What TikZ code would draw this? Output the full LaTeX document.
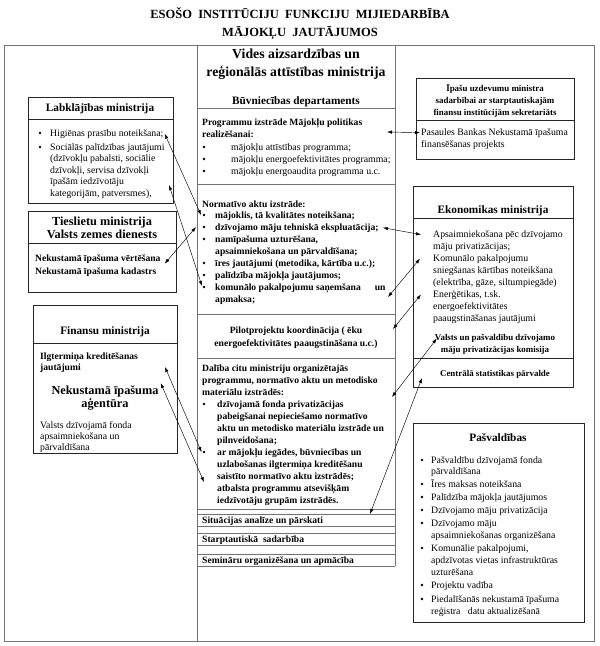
\documentclass[tikz,border=0pt]{standalone}
\usepackage{fontspec}
\setmainfont{Liberation Serif}
\usetikzlibrary{arrows.meta,positioning}
\newcommand{\bodyfont}{\fontsize{9.8}{12}\selectfont}
\newcommand{\boldbody}{\fontsize{9.6}{12}\selectfont\bfseries}
\newcommand{\smallbold}{\fontsize{8.9}{12}\selectfont\bfseries}
\newcommand{\headfont}{\fontsize{11.3}{13}\selectfont\bfseries}
\newcommand{\midhead}{\fontsize{12.3}{14}\selectfont\bfseries}
\newcommand{\bighead}{\fontsize{13.8}{16}\selectfont\bfseries}
\newcommand{\titlefont}{\fontsize{12.5}{16}\selectfont\bfseries}

\begin{document}
\begin{tikzpicture}[x=1pt,y=-1pt,>=Latex,
  sheet/.style={draw=black!55,line width=0.7pt},
  box/.style={draw=black!85,line width=0.6pt},
  ln/.style={anchor=base west,inner sep=0pt,font=\bodyfont},
  lnb/.style={anchor=base west,inner sep=0pt,font=\boldbody},
  hd/.style={anchor=base,inner sep=0pt,font=\headfont},
  dot/.style={circle,fill,inner sep=0pt,minimum size=2.6pt},
  link/.style={{Latex[length=5pt,width=3.4pt]}-{Latex[length=5pt,width=3.4pt]},line width=0.45pt}]

  \useasboundingbox (0,0) rectangle (600,646);

  % title
  \node[hd,font=\titlefont] (ttl1) at (300,18) {ESOŠO\ \ INSTITŪCIJU\ \ FUNKCIJU\ \ MIJIEDARBĪBA};
  \node[hd,font=\titlefont] (ttl2) at (300,36) {MĀJOKĻU\ \ JAUTĀJUMOS};

  % frame and middle column
  \draw[sheet] (4,45) rectangle (594,641);
  \draw[sheet] (197,45) -- (197,641);
  \draw[sheet] (395,45) -- (395,566);
  \foreach \y in {108,184,314,358,509,514,526,533,545,554,566}
    \draw[sheet] (197,\y) -- (395,\y);

  \node[hd,font=\bighead] (vam1) at (296,58) {Vides aizsardzības un};
  \node[hd,font=\bighead] (vam2) at (296,76) {reģionālās attīstības ministrija};
  \node[hd] (bvd) at (296,104) {Būvniecības departaments};

  \node[lnb] (prg1) at (202,125) {Programmu izstrāde Mājokļu politikas};
  \node[lnb] (prg2) at (202,137) {realizēšanai:};
  \foreach \row [count=\i] in {mājokļu attīstības programma;,mājokļu energoefektivitātes programma;,mājokļu energoaudita programma u.c.}{
    \node[dot] (pgd\i) at (204,{135+12*\i}) {};
    \node[ln] (pgl\i) at (231,{138+12*\i}) {\row};
  }

  \node[lnb] (nat0) at (202,207) {Normatīvo aktu izstrāde:};
  \foreach \row [count=\i] in {{mājoklis, tā kvalitātes noteikšana;},dzīvojamo māju tehniskā ekspluatācija;,{namīpašuma uzturēšana,},apsaimniekošana un pārvaldīšana;,{īres jautājumi (metodika, kārtība u.c.);},palīdzība mājokļa jautājumos;,komunālo pakalpojumu saņemšana\hspace{14pt}un,apmaksa;}
    \node[lnb] (nat\i) at (215,{206+12*\i}) {\row};
  \foreach \i in {1,2,3,5,6,7}
    \node[dot] (ntd\i) at (204,{203+12*\i}) {};

  \node[hd,font=\boldbody] (plt1) at (296,333) {Pilotprojektu koordinācija ( ēku};
  \node[hd,font=\boldbody] (plt2) at (296,346) {energoefektivitātes paaugstināšana u.c.)};

  \node[lnb] (dlb1) at (202,371) {Dalība citu ministriju organizētajās};
  \node[lnb] (dlb2) at (202,383) {programmu, normatīvo aktu un metodisko};
  \node[lnb] (dlb3) at (202,395) {materiālu izstrādēs:};
  \foreach \row [count=\i from 4] in {dzīvojamā fonda privatizācijas,pabeigšanai nepieciešamo normatīvo,aktu un metodisko materiālu izstrāde un,pilnveidošana;,{ar mājokļu iegādes, būvniecības un},uzlabošanas ilgtermiņa kreditēšanu,saistīto normatīvo aktu izstrādēs;,atbalsta programmu atsevišķām,iedzīvotāju grupām izstrādēs.}
    \node[lnb] (dlb\i) at (217,{359+12*\i}) {\row};
  \node[dot] (dld1) at (204,404) {};
  \node[dot] (dld2) at (204,452) {};

  \node[lnb] (sit) at (202,523) {Situācijas analīze un pārskati};
  \node[lnb] (stp) at (202,542) {Starptautiskā\ \ sadarbība};
  \node[lnb] (sem) at (202,563) {Semināru organizēšana un apmācība};

  % left column
  \draw[box] (28,97) rectangle (173,203);
  \draw[box] (28,119) -- (173,119);
  \node[hd] (lbm) at (100,111) {Labklājības ministrija};
  \node[dot] (lbd1) at (40,133) {};
  \node[dot] (lbd2) at (40,147) {};
  \node[ln] (hig) at (50,136) {Higiēnas prasību noteikšana;};
  \foreach \row [count=\i from 0] in {Sociālās palīdzības jautājumi,{(dzīvokļu pabalsti, sociālie},{dzīvokļi, servisa dzīvokļi},īpašām iedzīvotāju,{kategorijām, patversmes),}}
    \node[ln] (soc\i) at (50,{150+11.5*\i}) {\row};

  \draw[box] (28,211) rectangle (176,292);
  \draw[box] (28,243) -- (176,243);
  \node[hd,font=\midhead] (tsm1) at (102,225) {Tieslietu ministrija};
  \node[hd,font=\midhead] (tsm2) at (102,238) {Valsts zemes dienests};
  \node[lnb] (nkv) at (35,261) {Nekustamā īpašuma vērtēšana};
  \node[lnb] (nkk) at (35,274) {Nekustamā īpašuma kadastrs};

  \draw[box] (33,305) rectangle (177,453);
  \draw[box] (33,343) -- (177,343);
  \node[hd] (fnm) at (105,334) {Finansu ministrija};
  \node[lnb] (ilg1) at (40,359) {Ilgtermiņa kreditēšanas};
  \node[lnb] (ilg2) at (40,370) {jautājumi};
  \node[hd,font=\midhead] (nia1) at (105,394) {Nekustamā īpašuma};
  \node[hd,font=\midhead] (nia2) at (105,407) {aģentūra};
  \node[ln] (vdf1) at (40,428) {Valsts dzīvojamā fonda};
  \node[ln] (vdf2) at (40,439) {apsaimniekošana un};
  \node[ln] (vdf3) at (40,450) {pārvaldīšana};

  % right column
  \draw[box] (416,78) rectangle (574,159);
  \draw[box] (416,120) -- (574,120);
  \node[hd,font=\smallbold] (ipu1) at (495,91) {Īpašu uzdevumu ministra};
  \node[hd,font=\smallbold] (ipu2) at (495,103) {sadarbībai ar starptautiskajām};
  \node[hd,font=\smallbold] (ipu3) at (495,115) {finansu institūcijām sekretariāts};
  \node[ln] (pbk1) at (421,135) {Pasaules Bankas Nekustamā īpašuma};
  \node[ln] (pbk2) at (421,147) {finansēšanas projekts};

  \draw[box] (413,186) rectangle (573,387);
  \draw[box] (413,218) -- (573,218);
  \draw[box] (413,358) -- (573,358);
  \node[hd] (ekm) at (493,213) {Ekonomikas ministrija};
  \foreach \row [count=\i] in {Apsaimniekošana pēc dzīvojamo,māju privatizācijas;,Komunālo pakalpojumu,sniegšanas kārtības noteikšana,{(elektrība, gāze, siltumpiegāde)},{Enerģētikas, t.sk.},energoefektivitātes,paaugstināšanas jautājumi}
    \node[ln] (ek\i) at (433,{225+12*\i}) {\row};
  \node[hd,font=\smallbold] (vpk1) at (495,340) {Valsts un pašvaldību dzīvojamo};
  \node[hd,font=\smallbold] (vpk2) at (495,352) {māju privatizācijas komisija};
  \node[hd,font=\smallbold] (csp) at (495,376) {Centrālā statistikas pārvalde};

  \draw[box] (413,423) rectangle (584,622);
  \node[hd] (psv) at (498,441) {Pašvaldības};
  \foreach \y/\row [count=\i] in {463/Pašvaldību dzīvojamā fonda,474/pārvaldīšana,487/Īres maksas noteikšana,500/Palīdzība mājokļa jautājumos,513/Dzīvojamo māju privatizācija,526/Dzīvojamo māju,538/apsaimniekošanas organizēšana,551/{Komunālie pakalpojumi,},563/apdzīvotas vietas infrastruktūras,575/uzturēšana,588/Projektu vadība,602/Piedalīšanās nekustamā īpašuma,614/reģistra\ \ \ datu aktualizēšanā}
    \node[ln] (pv\i) at (431,\y) {\row};
  \foreach \y [count=\i] in {460,484,497,510,523,548,585,599}
    \node[dot] (pvd\i) at (422,\y) {};

  % links
  \coordinate (prgR) at (387,132);
  \coordinate (lbR) at (169,185);
  \coordinate (ilgR) at (165,367);
  \coordinate (atbL) at (204,482);
  \coordinate (apmR) at (388,297);
  \coordinate (pltR) at (393,329);
  \coordinate (dlbR) at (392,397);
  \coordinate (sitR) at (370,514);
  \coordinate (cspL) at (422,378);
  \draw[link] (prgR) -- ([xshift=-1pt]pbk1.west);
  \draw[link] ([xshift=1pt]hig.east) -- ([xshift=-1.5pt]ntd1.west);
  \draw[link] (lbR) -- ([xshift=-1pt]ntd7.north west);
  \draw[link] ([xshift=4pt,yshift=-5pt]nkv.east) -- ([xshift=-8pt]ntd2.center);
  \draw[link] (ilgR) -- ([xshift=-1pt]dld2.west);
  \draw[link] ([xshift=2pt,yshift=2pt]nia1.north east) -- (atbL);
  \draw[link] ([xshift=4pt]nat2.east) -- ([xshift=-12pt]ek1.west);
  \draw[link] (apmR) -- ([xshift=-13pt]ek3.west);
  \draw[link] (pltR) -- ([xshift=-12pt]ek6.west);
  \draw[link] (dlbR) -- ([xshift=2pt,yshift=-5pt]vpk1.north west);
  \draw[link] (sitR) -- (cspL);
\end{tikzpicture}
\end{document}
